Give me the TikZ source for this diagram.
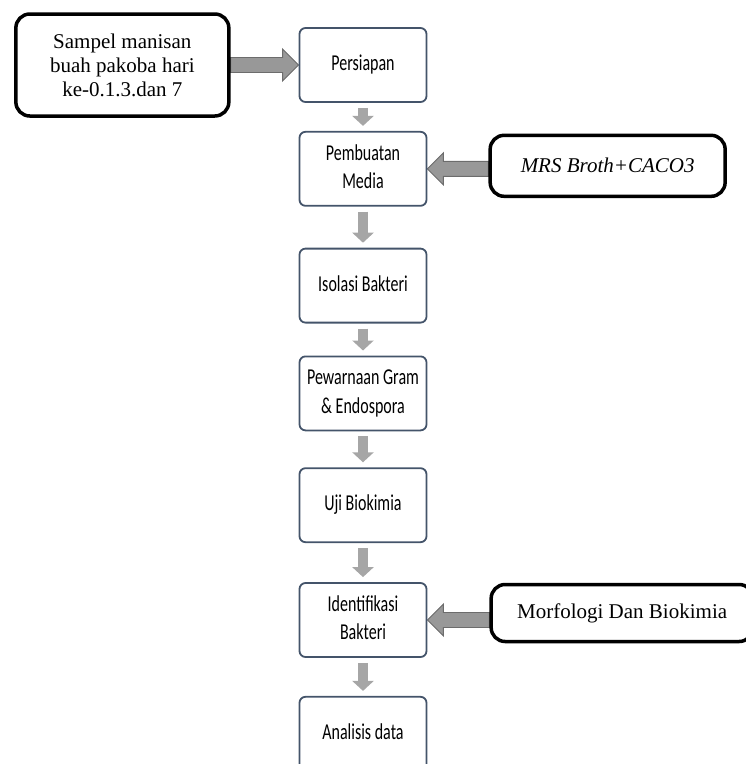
\documentclass[tikz,border=0pt]{standalone}
\usepackage{fontspec}
\setmainfont{Liberation Serif}
\newfontfamily\flowfont{Carlito}
\usepackage{graphicx}
\usetikzlibrary{arrows.meta, positioning, calc, backgrounds}

\definecolor{flowline}{RGB}{68,84,106}
\definecolor{arrowgray}{RGB}{166,166,166}
\definecolor{sidefill}{RGB}{152,152,152}
\definecolor{sideline}{RGB}{108,108,108}

% stretched text like in the original figure
\newcommand{\tallbox}[1]{\scalebox{1}[1.42]{\begin{tabular}{@{}c@{}}#1\end{tabular}}}

\begin{document}
\begin{tikzpicture}[every node/.style={font=\fontsize{21}{24}\selectfont}]
    % Styles
    \tikzstyle{stage} = [rectangle, rounded corners=6pt, draw=flowline, line width=1.8pt, fill=white, minimum width=127pt, minimum height=74pt, align=center, inner sep=2pt, font=\flowfont\fontsize{16}{20}\selectfont]
    \tikzstyle{input} = [rectangle, rounded corners=14pt, draw=black, line width=3.5pt, fill=white, align=center]
    \tikzstyle{downarrow} = [draw=arrowgray, line width=10.5pt, -{Triangle[length=10pt,width=21pt]}, shorten <=5pt, shorten >=5pt]
    \tikzstyle{sidearrow} = [draw=sideline, fill=sidefill, line width=0.9pt, line join=miter]

    \useasboundingbox (0,0) rectangle (746pt,-764pt);
    \clip (0,0) rectangle (746pt,-764pt);

    % Stages
    \node[stage] (persiapan) at (363pt,-65pt) {\tallbox{Persiapan}};
    \node[stage, below=28pt of persiapan] (pembuatan) {\tallbox{Pembuatan\\Media}};
    \node[stage, below=41pt of pembuatan] (isolasi) {\tallbox{Isolasi Bakteri}};
    \node[stage, below=32pt of isolasi] (pewarnaan) {\tallbox{Pewarnaan Gram\\\& Endospora}};
    \node[stage, below=36pt of pewarnaan] (uji) {\tallbox{Uji Biokimia}};
    \node[stage, below=39pt of uji] (identifikasi) {\tallbox{Identifikasi\\Bakteri}};
    \node[stage, below=38pt of identifikasi] (analisis) {\tallbox{Analisis data}};

    % Inputs
    \node[input, minimum width=213pt, minimum height=102pt, left=68pt of persiapan] (sampel) {Sampel manisan\\buah pakoba hari\\ke-0.1.3.dan 7};
    \node[input, minimum width=235pt, minimum height=61pt, right=61pt of pembuatan, yshift=3pt] (mrs) {\textit{MRS Broth+CACO3}};
    \node[input, minimum width=262pt, minimum height=57pt, right=62pt of identifikasi, yshift=7pt] (morfologi) {Morfologi Dan Biokimia};

    % Arrows
    \draw[downarrow] (persiapan) -- (pembuatan);
    \draw[downarrow] (pembuatan) -- (isolasi);
    \draw[downarrow] (isolasi) -- (pewarnaan);
    \draw[downarrow] (pewarnaan) -- (uji);
    \draw[downarrow] (uji) -- (identifikasi);
    \draw[downarrow] (identifikasi) -- (analisis);

    \begin{scope}[on background layer]
        \draw[sidearrow] (persiapan.west) -- ++(-16pt,16pt) -- ++(0,-8.5pt) -- ($(sampel.east |- persiapan.west)+(0,7.5pt)$) -- ++(0,-15pt) -- ($(persiapan.west)+(-16pt,-7.5pt)$) -- ++(0,-8.5pt) -- cycle;
        \draw[sidearrow] (pembuatan.east) -- ++(16pt,16pt) -- ++(0,-8.5pt) -- ($(mrs.west |- pembuatan.east)+(0,7.5pt)$) -- ++(0,-15pt) -- ($(pembuatan.east)+(16pt,-7.5pt)$) -- ++(0,-8.5pt) -- cycle;
        \draw[sidearrow] (identifikasi.east) -- ++(16pt,16pt) -- ++(0,-8.5pt) -- ($(morfologi.west |- identifikasi.east)+(0,7.5pt)$) -- ++(0,-15pt) -- ($(identifikasi.east)+(16pt,-7.5pt)$) -- ++(0,-8.5pt) -- cycle;
    \end{scope}
\end{tikzpicture}
\end{document}
